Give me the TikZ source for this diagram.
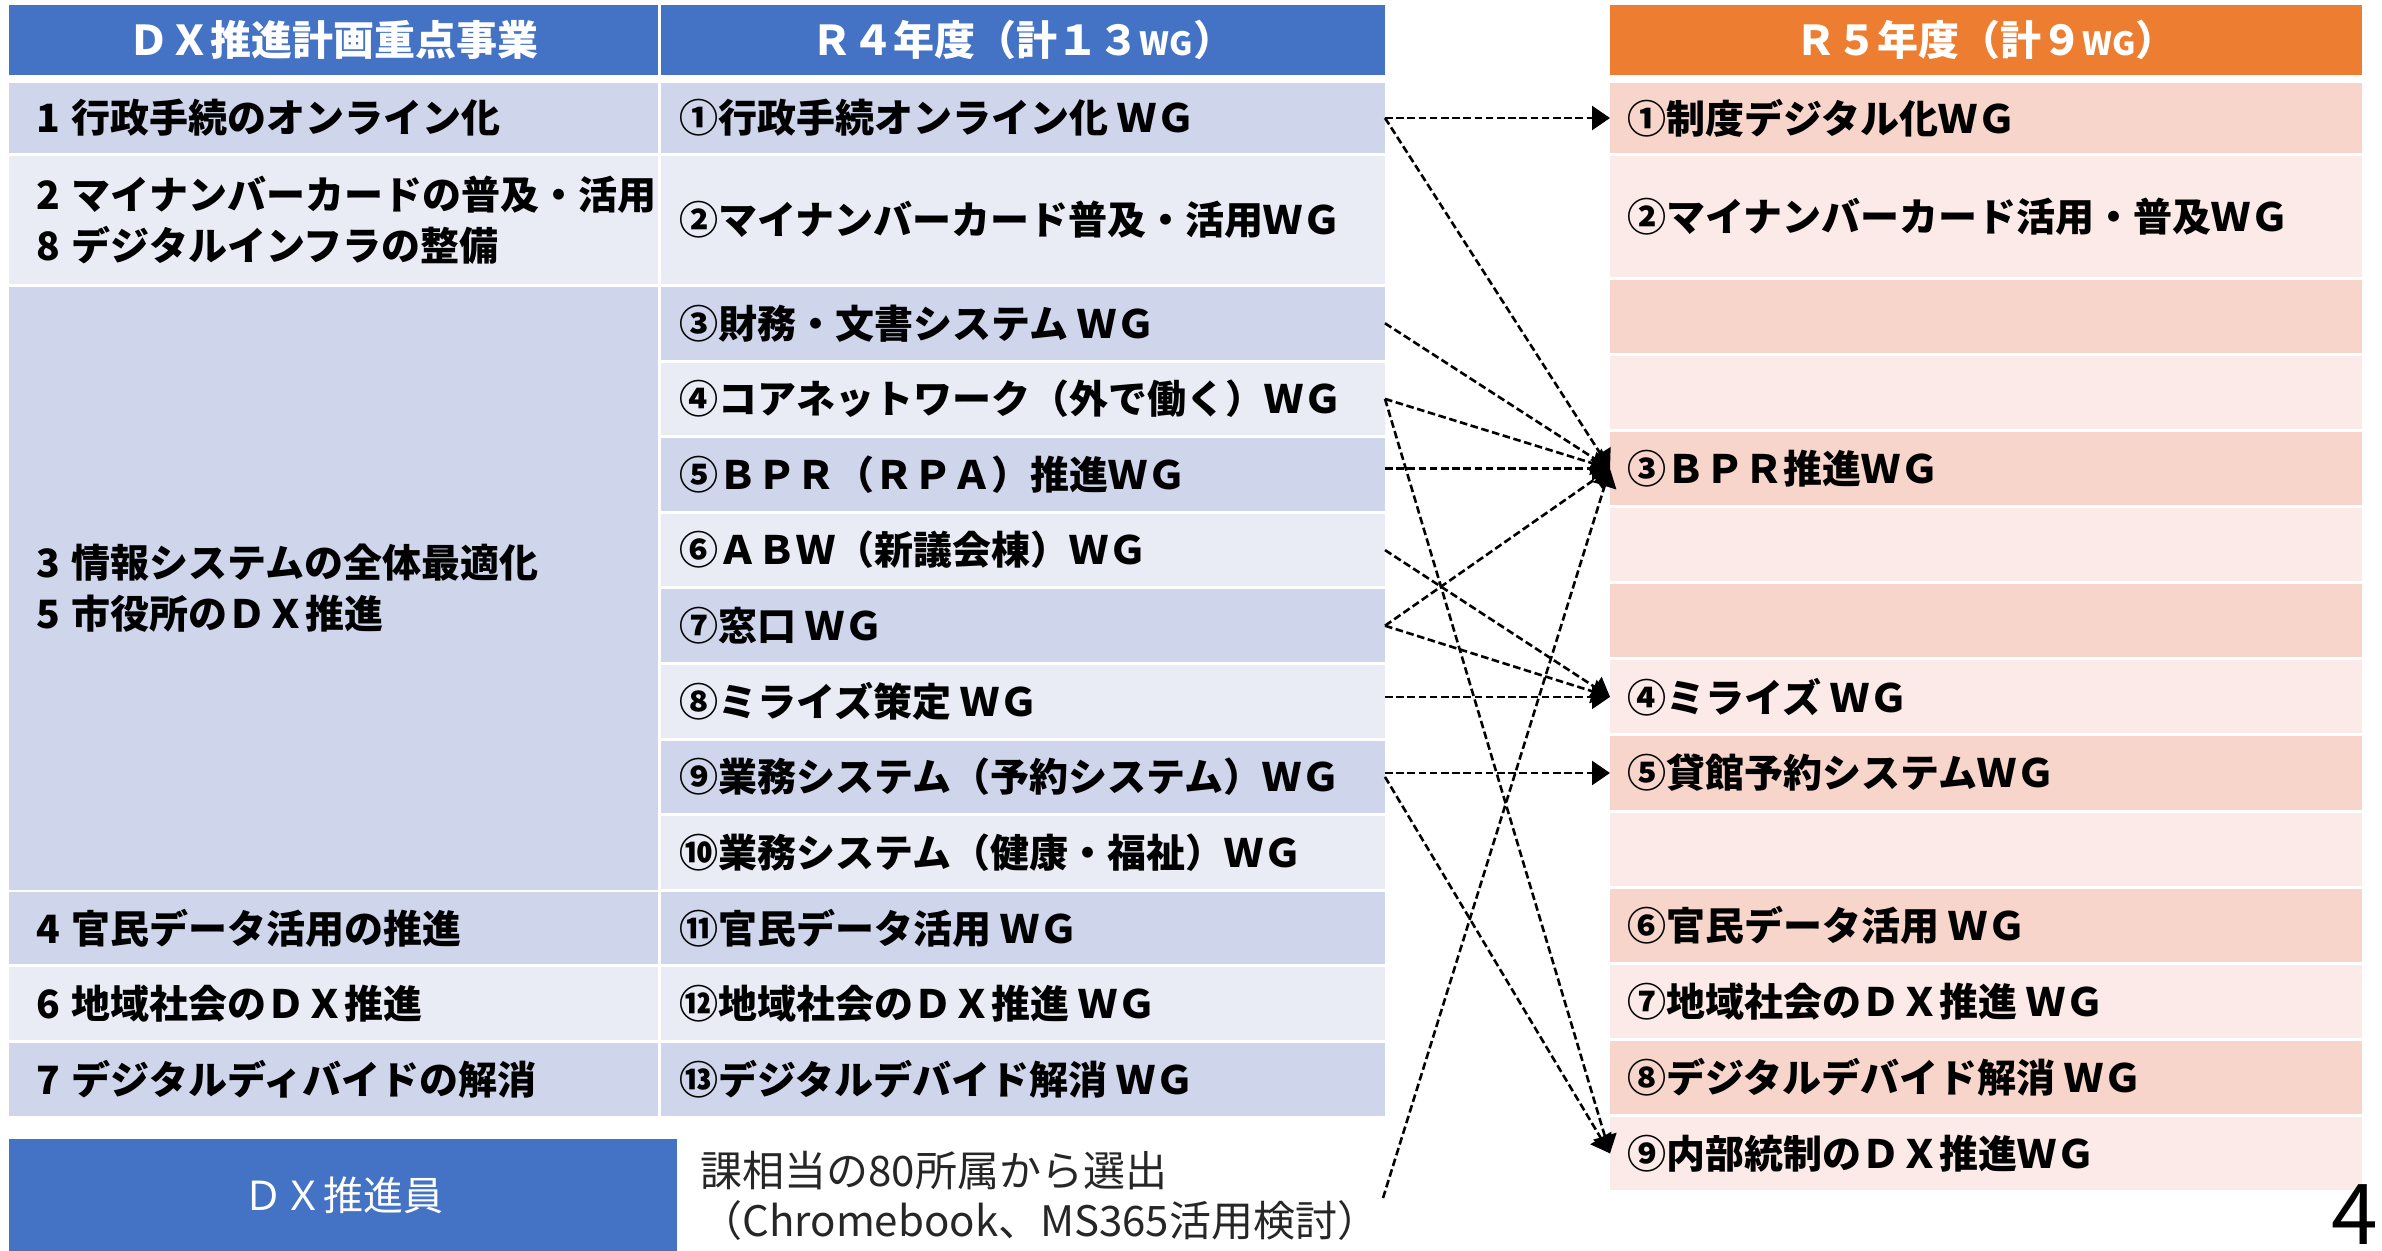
\documentclass[tikz,border=0pt]{standalone}
\usepackage{fontspec}
\setmainfont{Noto Sans CJK JP}
\usetikzlibrary{arrows.meta}
\definecolor{hblue}{HTML}{4472C4}
\definecolor{horange}{HTML}{ED7D31}
\definecolor{bdark}{HTML}{CFD5EA}
\definecolor{blight}{HTML}{E9EBF5}
\definecolor{odark}{HTML}{F8D5CB}
\definecolor{olight}{HTML}{FBEAE7}
\begin{document}
\begin{tikzpicture}[x=0.5pt,y=-0.5pt,
 cell/.style={rectangle, anchor=north west, inner sep=0pt, outer sep=0pt},
 wa/.style={minimum width=324.5pt}, wb/.style={minimum width=362pt}, wc/.style={minimum width=376pt},
 hh/.style={minimum height=35pt}, rh/.style={minimum height=36.3pt}, qh/.style={minimum height=36.5pt},
 txt/.style={anchor=west, inner sep=0pt, align=left, font=\fontsize{19.5pt}{25.5pt}\selectfont\bfseries},
 htxt/.style={inner sep=0pt, text=white, font=\fontsize{20.5pt}{24pt}\selectfont\bfseries},
 conn/.style={draw=black, line width=1.3pt, dash pattern=on 3.8pt off 1.8pt, -{Triangle[length=9pt,width=12pt]}}
]
\useasboundingbox (0,0) rectangle (2382,1250);
% headers
\node[cell,wa,hh,fill=hblue] (ha) at (9,5) {};
\node[htxt] (tha) at (ha.center) {ＤＸ推進計画重点事業};
\node[cell,wb,hh,fill=hblue] (hb) at (661,5) {};
\node[htxt] (thb) at (hb.center) {Ｒ４年度（計１３{\fontsize{16pt}{20pt}\selectfont WG}）};
\node[cell,wc,hh,fill=horange] (hc) at (1610,5) {};
\node[htxt] (thc) at (hc.center) {Ｒ５年度（計９{\fontsize{16pt}{20pt}\selectfont WG}）};
% left column 1
\node[cell,wa,hh,fill=bdark] (a1) at (9,83) {};
\node[txt] (ta1) at ([xshift=13.5pt]a1.west) {1\hspace{0.3em}行政手続のオンライン化};
\node[cell,wa,minimum height=64pt,fill=blight] (a2) at (9,156) {};
\node[txt] (ta2) at ([xshift=13.5pt]a2.west) {2\hspace{0.3em}マイナンバーカードの普及・活用\\8\hspace{0.3em}デジタルインフラの整備};
\node[cell,wa,minimum height=301.4pt,fill=bdark] (a3) at (9,287) {};
\node[txt] (ta3) at ([xshift=13.5pt]a3.west) {3\hspace{0.3em}情報システムの全体最適化\\5\hspace{0.3em}市役所のＤＸ推進};
\node[cell,wa,rh,fill=bdark] (a4) at (9,891.8) {};
\node[txt] (ta4) at ([xshift=13.5pt]a4.west) {4\hspace{0.3em}官民データ活用の推進};
\node[cell,wa,rh,fill=blight] (a6) at (9,967.4) {};
\node[txt] (ta6) at ([xshift=13.5pt]a6.west) {6\hspace{0.3em}地域社会のＤＸ推進};
\node[cell,wa,rh,fill=bdark] (a7) at (9,1043) {};
\node[txt] (ta7) at ([xshift=13.5pt]a7.west) {7\hspace{0.3em}デジタルディバイドの解消};
% left column 2
\node[cell,wb,hh,fill=bdark] (b1) at (661,83) {};
\node[txt] (tb1) at ([xshift=9pt]b1.west) {①行政手続オンライン化 ＷＧ};
\node[cell,wb,minimum height=64pt,fill=blight] (b2) at (661,156) {};
\node[txt] (tb2) at ([xshift=9pt]b2.west) {②マイナンバーカード普及・活用ＷＧ};
\node[cell,wb,rh,fill=bdark] (b3) at (661,287) {};
\node[txt] (tb3) at ([xshift=9pt]b3.west) {③財務・文書システム ＷＧ};
\node[cell,wb,rh,fill=blight] (b4) at (661,362.6) {};
\node[txt] (tb4) at ([xshift=9pt]b4.west) {④コアネットワーク（外で働く）ＷＧ};
\node[cell,wb,rh,fill=bdark] (b5) at (661,438.2) {};
\node[txt] (tb5) at ([xshift=9pt]b5.west) {⑤ＢＰＲ（ＲＰＡ）推進ＷＧ};
\node[cell,wb,rh,fill=blight] (b6) at (661,513.8) {};
\node[txt] (tb6) at ([xshift=9pt]b6.west) {⑥ＡＢＷ（新議会棟）ＷＧ};
\node[cell,wb,rh,fill=bdark] (b7) at (661,589.4) {};
\node[txt] (tb7) at ([xshift=9pt]b7.west) {⑦窓口 ＷＧ};
\node[cell,wb,rh,fill=blight] (b8) at (661,665) {};
\node[txt] (tb8) at ([xshift=9pt]b8.west) {⑧ミライズ策定 ＷＧ};
\node[cell,wb,rh,fill=bdark] (b9) at (661,740.6) {};
\node[txt] (tb9) at ([xshift=9pt]b9.west) {⑨業務システム（予約システム）ＷＧ};
\node[cell,wb,rh,fill=blight] (b10) at (661,816.2) {};
\node[txt] (tb10) at ([xshift=9pt]b10.west) {⑩業務システム（健康・福祉）ＷＧ};
\node[cell,wb,rh,fill=bdark] (b11) at (661,891.8) {};
\node[txt] (tb11) at ([xshift=9pt]b11.west) {⑪官民データ活用 ＷＧ};
\node[cell,wb,rh,fill=blight] (b12) at (661,967.4) {};
\node[txt] (tb12) at ([xshift=9pt]b12.west) {⑫地域社会のＤＸ推進 ＷＧ};
\node[cell,wb,rh,fill=bdark] (b13) at (661,1043) {};
\node[txt] (tb13) at ([xshift=9pt]b13.west) {⑬デジタルデバイド解消 ＷＧ};
% right column
\node[cell,wc,hh,fill=odark] (c1) at (1610,83) {};
\node[txt] (tc1) at ([xshift=8.5pt]c1.west) {①制度デジタル化ＷＧ};
\node[cell,wc,minimum height=60.5pt,fill=olight] (c2) at (1610,156) {};
\node[txt] (tc2) at ([xshift=8.5pt]c2.west) {②マイナンバーカード活用・普及ＷＧ};
\node[cell,wc,qh,fill=odark] (ce1) at (1610,280) {};
\node[cell,wc,qh,fill=olight] (ce2) at (1610,356.08) {};
\node[cell,wc,qh,fill=odark] (c3) at (1610,432.16) {};
\node[txt] (tc3) at ([xshift=8.5pt]c3.west) {③ＢＰＲ推進ＷＧ};
\node[cell,wc,qh,fill=olight] (ce3) at (1610,508.24) {};
\node[cell,wc,qh,fill=odark] (ce4) at (1610,584.32) {};
\node[cell,wc,qh,fill=olight] (c4) at (1610,660.4) {};
\node[txt] (tc4) at ([xshift=8.5pt]c4.west) {④ミライズ ＷＧ};
\node[cell,wc,qh,fill=odark] (c5) at (1610,736.48) {};
\node[txt] (tc5) at ([xshift=8.5pt]c5.west) {⑤貸館予約システムＷＧ};
\node[cell,wc,qh,fill=olight] (ce5) at (1610,812.56) {};
\node[cell,wc,qh,fill=odark] (c6) at (1610,888.64) {};
\node[txt] (tc6) at ([xshift=8.5pt]c6.west) {⑥官民データ活用 ＷＧ};
\node[cell,wc,qh,fill=olight] (c7) at (1610,964.72) {};
\node[txt] (tc7) at ([xshift=8.5pt]c7.west) {⑦地域社会のＤＸ推進 ＷＧ};
\node[cell,wc,qh,fill=odark] (c8) at (1610,1040.8) {};
\node[txt] (tc8) at ([xshift=8.5pt]c8.west) {⑧デジタルデバイド解消 ＷＧ};
\node[cell,wc,qh,fill=olight] (c9) at (1610,1116.88) {};
\node[txt] (tc9) at ([xshift=8.5pt]c9.west) {⑨内部統制のＤＸ推進ＷＧ};
% bottom
\node[cell,minimum width=334pt,minimum height=56pt,fill=hblue] (dx) at (9,1139) {};
\node[inner sep=0pt,text=white,font=\fontsize{20pt}{24pt}\selectfont] (tdx) at (dx.center) {ＤＸ推進員};
\node[anchor=west,inner sep=0pt,align=left,text=black!85,font=\fontsize{21pt}{25pt}\selectfont] (note) at (700,1196) {課相当の80所属から選出\\（Chromebook、MS365活用検討）};
\node[anchor=base east,inner sep=0pt,font=\fontsize{42pt}{48pt}\selectfont] (pg) at (2378,1244) {4};
\coordinate (dxfree) at (1383,1198);
% connectors
\draw[conn] (c1.west -| b1.east) -- (c1.west);
\draw[conn] (b1.east) -- (c3.west);
\draw[conn] (b3.east) -- (c3.west);
\draw[conn] (b4.east) -- (c3.west);
\draw[conn] (b4.east) -- (c9.west);
\draw[conn] (c3.west -| b5.east) -- (c3.west);
\draw[conn] (b6.east) -- (c4.west);
\draw[conn] (b7.east) -- (c3.west);
\draw[conn] (b7.east) -- (c4.west);
\draw[conn] (c4.west -| b8.east) -- (c4.west);
\draw[conn] (c5.west -| b9.east) -- (c5.west);
\draw[conn] (b9.east) -- (c9.west);
\draw[conn] (dxfree) -- (c3.west);
\end{tikzpicture}
\end{document}
